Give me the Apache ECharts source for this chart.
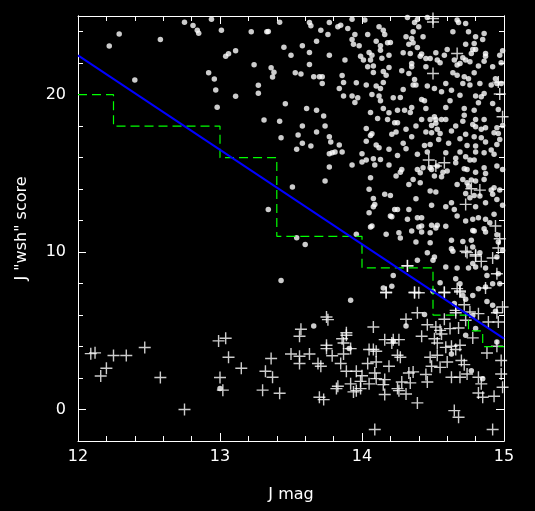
<!DOCTYPE html>
<html><head><meta charset="utf-8">
<script src="https://cdn.jsdelivr.net/npm/echarts@6/dist/echarts.min.js"></script>
<style>html,body{margin:0;padding:0;background:#000;}#c{width:535px;height:511px;}</style>
</head><body><div id="c"></div>
<script>
// Dots (upper population): [J mag, score]
const dotPoints = [
[12.22,23.1],[12.29,23.85],[12.58,23.5],[12.40,20.93],[12.75,24.6],[12.81,24.4],[12.84,24.1],[12.85,23.9],[12.94,24.8],[13.01,24.1],[13.22,24.0],[13.33,24.0],[13.04,22.45],[13.06,22.6],[13.11,22.8],[13.24,21.9],[12.92,21.4],[12.96,21.0],[12.97,20.3],[13.11,19.9],[13.27,20.6],[13.27,20.1],[12.98,19.2],[13.31,18.4],[13.34,12.7],
[13.42,24.61],[13.34,24.02],[13.45,23.02],[13.36,21.71],[13.37,21.12],[13.38,21.43],[13.46,19.43],[13.42,18.32],[13.43,17.27],
[13.63,24.59],[13.64,24.38],[13.71,24.10],[13.77,24.59],[13.83,24.31],[13.85,24.42],[13.90,24.21],[13.93,24.80],[14.02,24.74],[14.12,24.31],[14.15,24.10],[14.16,23.83],[13.76,23.83],[13.95,23.83],[14.04,23.83],[13.93,23.51],[13.68,23.40],[13.58,23.11],[13.94,23.21],[13.98,23.11],[14.10,23.40],[14.18,23.30],[14.20,23.32],[14.13,23.11],[14.13,22.83],[13.63,22.68],[13.77,22.51],[13.50,22.51],[13.99,22.45],[14.05,22.68],[14.07,22.51],[14.14,22.32],[14.19,22.51],[13.88,22.20],[14.01,22.20],[14.06,22.20],[13.63,21.92],[14.04,21.77],[14.08,21.82],[14.19,21.73],[13.53,21.39],[13.57,21.31],[14.08,21.41],[14.15,21.48],[14.17,21.24],[13.66,21.14],[13.70,21.14],[13.72,21.14],[13.72,20.71],[13.86,21.22],[13.87,20.78],[13.96,20.76],[14.03,20.61],[14.10,20.55],[14.13,20.40],[14.15,20.78],[13.84,20.40],[13.87,19.91],[13.93,19.91],[13.97,19.80],[13.95,19.51],[14.07,20.02],[14.12,19.91],[14.13,19.61],[14.22,19.80],[13.61,19.13],[13.68,19.02],[13.73,18.64],[14.06,18.87],[14.15,19.13],[14.19,18.85],[14.11,18.49],[14.18,18.43],
[14.32,24.91],[14.37,24.59],[14.39,24.78],[14.46,24.91],[14.40,24.31],[14.67,24.74],[14.68,24.59],[14.73,24.52],[14.36,24.00],[14.31,23.68],[14.35,23.57],[14.43,23.68],[14.64,24.00],[14.75,24.00],[14.80,23.68],[14.86,23.89],[14.85,23.51],[14.33,23.21],[14.36,23.30],[14.39,23.00],[14.73,23.21],[14.79,23.25],[14.78,22.87],[14.60,22.87],[14.80,22.87],[14.29,22.66],[14.34,22.62],[14.42,22.58],[14.41,22.45],[14.52,22.66],[14.58,22.51],[14.77,22.62],[14.87,22.62],[14.87,22.45],[14.97,22.51],[14.99,22.79],[14.45,22.30],[14.48,22.30],[14.53,22.20],[14.55,22.03],[14.65,22.20],[14.71,22.34],[14.73,22.20],[14.76,22.09],[14.86,22.13],[14.92,21.77],[14.98,22.03],[14.35,21.98],[14.35,21.77],[14.45,21.77],[14.67,21.88],[14.69,21.98],[14.82,21.82],[14.28,21.52],[14.33,21.35],[14.64,21.39],[14.67,21.24],[14.72,21.14],[14.79,21.39],[14.94,21.01],[14.98,20.71],[14.37,20.97],[14.38,20.61],[14.36,20.61],[14.46,20.55],[14.51,20.40],[14.59,20.71],[14.71,20.71],[14.75,21.01],[14.76,20.61],[14.83,20.71],[14.91,20.61],[14.95,20.71],[14.29,20.33],[14.56,20.19],[14.63,20.29],[14.69,19.97],[14.80,19.91],[14.84,19.87],[14.86,20.08],[14.27,19.83],[14.42,19.70],[14.44,19.61],[14.62,19.61],[14.82,19.49],[14.92,19.44],[14.96,19.06],[14.25,19.02],[14.30,19.02],[14.35,19.19],[14.34,18.87],[14.45,19.13],[14.59,19.19],[14.72,19.13],[14.79,19.02],[14.42,18.43],[14.48,18.43],[14.51,18.60],[14.52,18.43],[14.56,18.43],[14.59,18.43],[14.72,18.70],[14.80,18.43],[14.86,18.43],
[13.58,18.01],[13.74,18.01],[13.68,17.63],[13.55,17.44],[13.77,17.33],[13.78,16.99],[13.58,16.91],[13.64,16.74],[13.54,16.53],[13.84,16.80],[13.77,16.25],[13.79,16.31],[13.81,16.36],[13.86,16.36],[13.77,15.40],[13.93,15.53],[13.74,14.51],[13.51,14.13],[14.03,17.86],[14.06,17.41],[14.07,17.52],[14.03,17.05],[14.10,16.80],[14.12,16.63],[14.19,16.53],[14.21,17.48],[14.24,17.63],[14.23,18.22],[14.00,16.25],[14.00,15.72],[14.03,15.85],[14.08,15.93],[14.09,15.53],[14.13,15.89],[14.19,15.53],[14.06,14.73],[14.05,13.99],[14.16,13.67],[14.20,13.60],[14.08,13.41],[14.09,13.03],[14.08,12.88],[14.24,14.83],[14.05,12.50],[14.23,12.71],[14.21,12.25],[14.20,12.29],[14.07,11.66],
[14.25,18.22],[14.31,17.80],[14.38,18.01],[14.49,18.05],[14.49,17.58],[14.52,18.18],[14.53,17.80],[14.55,17.54],[14.63,17.69],[14.66,18.01],[14.71,18.32],[14.78,18.11],[14.80,17.96],[14.84,17.80],[14.87,17.90],[14.95,17.90],[14.96,17.54],[14.99,18.05],[14.45,17.63],
[14.35,17.33],[14.29,16.91],[14.31,16.57],[14.44,16.78],[14.48,16.84],[14.54,17.16],[14.61,16.91],[14.69,17.20],[14.73,17.48],[14.79,17.33],[14.84,17.27],[14.74,16.78],[14.80,16.74],[14.87,16.99],[14.93,17.58],[14.97,17.16],[14.95,16.84],[14.91,16.48],[14.59,16.31],[14.69,16.36],[14.46,16.36],[14.39,16.21],[14.80,16.36],[14.86,16.31],[14.93,16.21],
[14.25,16.14],[14.66,15.97],[14.73,16.06],[14.76,15.85],[14.79,15.85],[14.28,15.25],[14.27,15.08],[14.39,15.25],[14.41,15.04],[14.43,15.36],[14.48,15.36],[14.49,15.25],[14.53,15.47],[14.57,15.08],[14.60,15.15],[14.51,14.83],[14.56,14.79],[14.66,15.68],[14.72,15.30],[14.74,15.25],[14.80,15.08],[14.86,15.36],[14.87,15.00],[14.95,15.47],[14.99,15.25],[14.36,14.62],[14.41,14.41],[14.33,14.30],[14.71,14.62],[14.74,14.41],[14.77,14.58],[14.80,14.51],[14.86,14.62],[14.91,13.94],[14.93,14.09],[14.92,13.67],[14.97,13.94],[14.95,13.35],[14.87,13.14],[14.83,13.56],[14.79,13.60],[14.73,13.73],[14.75,14.20],[14.76,13.46],[14.67,14.30],[14.48,13.88],[14.52,13.82],[14.38,13.39],[14.49,12.97],[14.59,12.88],[14.65,12.71],[14.67,12.29],[14.80,12.88],[14.82,12.18],[14.87,12.08],[14.90,11.87],[14.93,12.40],[14.99,12.97],[14.73,11.97],[14.63,13.14],[14.25,12.71],[14.33,12.71],[14.32,12.08],[14.39,12.18],[14.42,12.18],[14.49,11.70],[14.42,11.66],[14.53,11.70],[14.78,12.08],
[13.54,10.92],[13.60,10.49],[13.96,11.13],[14.06,11.59],[14.17,11.13],[14.22,8.52],[14.21,7.83],[14.15,7.72],[13.92,6.94],[13.66,5.31],
[14.26,11.23],[14.27,10.90],[14.35,11.34],[14.40,11.59],[14.42,11.28],[14.48,11.23],[14.52,11.53],[14.59,11.64],[14.48,10.60],[14.38,10.64],[14.63,10.75],[14.71,10.68],[14.78,11.38],[14.79,11.34],[14.86,11.49],[14.87,11.28],[14.95,11.11],[14.96,10.64],[14.77,10.75],[14.63,10.22],[14.64,10.05],[14.78,10.32],[14.83,9.96],[14.99,10.11],[14.95,9.69],[14.46,9.96],[14.51,9.69],[14.50,9.48],[14.39,9.48],[14.59,9.05],[14.67,8.99],[14.75,8.99],[14.78,9.27],[14.80,9.05],[14.87,8.99],[14.88,8.52],[14.92,7.99],[14.96,8.63],[14.97,7.99],[14.55,8.06],[14.66,8.31],[14.69,7.99],[14.82,7.68],[14.87,7.78],[14.71,7.25],[14.73,7.00],[14.78,7.25],[14.88,6.87],[14.92,6.62],[14.94,6.24],[14.78,5.98],[14.65,6.73],[14.31,5.31],[14.80,5.14],[14.44,6.03],[14.50,7.51],
[13.43,8.2],[13.0,1.33],[13.91,3.87],[14.22,4.34],[14.73,4.72],[14.77,2.47],[14.85,1.96],[14.63,3.53],[14.95,4.29]
];
// Crosses (lower population): [J mag, score]
const crossPoints = [
[12.09,3.55],[12.12,3.6],[12.25,3.43],[12.34,3.43],[12.47,3.94],[12.16,2.13],[12.20,2.62],[12.58,2.03],[12.75,0.0],[12.99,4.36],[13.04,4.53],[13.06,3.32],[13.15,2.62],[13.00,2.03],[13.02,1.23],[13.32,2.43],[13.30,1.23],
[13.36,3.24],[13.37,2.05],[13.42,1.03],
[14.17,7.42],[13.75,5.88],[13.76,5.71],[13.57,5.10],[14.08,5.24],[13.89,4.88],
[14.73,10.05],[14.80,9.75],[14.84,9.41],[14.92,9.63],[14.96,10.26],[14.97,10.85],[14.94,11.66],[14.32,9.12],[14.37,7.42],[14.40,7.42],[14.58,7.42],[14.67,7.68],[14.69,7.47],[14.87,7.72],[14.39,6.15],[14.31,5.73],[14.58,5.73],[14.66,6.15],[14.72,6.66],[14.73,5.67],[14.82,6.09],[14.89,5.56],[14.95,6.15],[14.96,5.56],[14.99,6.51],[14.46,5.39],[14.52,5.24],[14.55,5.03],[14.62,5.14],[14.68,5.18],
[13.56,4.65],[13.86,4.50],[13.89,4.72],[13.87,4.23],[13.75,4.08],[13.75,3.87],[13.92,3.87],[14.05,3.81],[14.08,3.81],[14.10,3.70],[14.16,4.44],[14.21,4.23],[14.22,4.44],[13.50,3.53],[13.56,3.38],[13.63,3.53],[13.79,3.42],[13.87,3.53],[14.25,3.45],[13.56,2.92],[13.69,2.92],[13.71,2.75],[13.85,2.92],[14.04,2.92],[14.10,3.02],[14.19,2.75],[13.89,2.43],[13.96,2.43],[14.00,2.15],[14.05,1.63],[14.09,2.32],[14.10,1.96],[14.16,1.90],[13.99,1.79],[13.92,1.63],[13.82,1.33],[13.83,1.48],[13.94,1.12],[13.99,1.33],[13.96,1.20],[14.15,1.58],[14.16,0.95],[14.25,1.33],[13.70,0.78],[13.73,0.63],[14.09,-1.27],
[14.26,4.44],[14.42,4.65],[14.51,4.50],[14.53,4.23],[14.56,4.80],[14.59,3.95],[14.63,4.02],[14.69,4.08],[14.66,3.81],[14.78,4.55],[14.88,3.59],[14.95,4.02],[14.98,3.11],[14.27,3.32],[14.48,3.32],[14.53,3.45],[14.60,3.02],[14.70,3.11],[14.72,2.85],[14.49,2.75],[14.55,2.68],[14.74,2.26],[14.82,2.05],[14.84,1.63],[14.63,2.05],[14.69,2.05],[14.33,2.32],[14.36,2.39],[14.45,2.22],[14.46,1.75],[14.34,1.69],[14.28,1.75],[14.26,1.20],[14.31,0.99],[14.82,1.05],[14.85,0.78],[14.93,0.84],[14.99,1.41],[14.98,2.26],[14.39,0.42],[14.65,-0.07],[14.68,-0.49],[14.92,-1.27],
[14.50,24.84],[14.50,24.62],[14.67,22.62],[14.50,21.35],[14.97,20.04],[14.96,20.80],[14.99,18.60],[14.47,15.85],[14.52,15.47],[14.58,15.68],[14.77,14.03],[14.83,13.94],[14.73,13.03],
[14.32,9.14],[14.17,7.45],[14.37,7.45],[14.58,7.45],[14.69,7.53],[14.66,6.30],[14.76,6.2],[14.74,9.97],[14.80,9.84],[14.95,8.63]
];
// Fitted line and step threshold
const fitX = [12, 15];
const fitY = [22.5, 4.5];
const stepX = [12, 12.25, 12.25, 13, 13, 13.4, 13.4, 14, 14, 14.5, 14.5, 14.75, 14.75, 14.85, 14.85, 15];
const stepY = [20, 20, 18, 18, 16, 16, 11, 11, 9, 9, 6, 6, 5, 5, 4, 4];
const yMajorTicks = [0, 10, 20];

const FONT = 'DejaVu Sans';
const W = '#ffffff';
const chart = echarts.init(document.getElementById('c'), null, {renderer: 'canvas'});

function xAx(pos, labels) {
  const a = {
    type: 'value', position: pos, min: 12, max: 15, interval: 1,
    axisLine: {show: true, onZero: false, lineStyle: {color: W, width: 1}},
    axisTick: {show: true, inside: true, length: 8, lineStyle: {color: W, width: 1}},
    minorTick: {show: true, splitNumber: 5, length: 5, lineStyle: {color: W, width: 1}},
    axisLabel: {show: labels, color: W, fontFamily: FONT, fontSize: 16, margin: 8},
    splitLine: {show: false}, minorSplitLine: {show: false}
  };
  if (labels) {
    a.name = 'J mag'; a.nameLocation = 'middle'; a.nameGap = 46;
    a.nameTextStyle = {color: W, fontFamily: FONT, fontSize: 16};
  }
  return a;
}
function yAx(pos, major, labels) {
  const a = {
    type: 'value', position: pos, min: -2, max: 25, interval: 2,
    axisLine: {show: true, onZero: false, lineStyle: {color: W, width: 1}},
    axisTick: major ? {show: true, inside: true, length: 8, customValues: yMajorTicks, lineStyle: {color: W, width: 1}}
                    : {show: true, inside: true, length: 5, lineStyle: {color: W, width: 1}},
    axisLabel: labels ? {show: true, color: W, fontFamily: FONT, fontSize: 16, margin: 12, customValues: yMajorTicks}
                      : {show: false},
    splitLine: {show: false}
  };
  if (labels) {
    a.name = 'J "wsh" score'; a.nameLocation = 'middle'; a.nameGap = 48; a.nameRotate = 90;
    a.nameTextStyle = {color: W, fontFamily: FONT, fontSize: 16};
  }
  return a;
}

chart.setOption({
  backgroundColor: '#000',
  animation: false,
  grid: {left: 78, right: 31, top: 16, bottom: 70, containLabel: false, outerBoundsMode: 'none'},
  xAxis: [xAx('bottom', true), xAx('top', false)],
  yAxis: [yAx('left', true, true), yAx('left', false, false), yAx('right', true, false), yAx('right', false, false)],
  series: [
    {type: 'scatter', xAxisIndex: 0, yAxisIndex: 0, data: dotPoints, symbol: 'circle', symbolSize: 5.5,
     itemStyle: {color: W}, z: 2},
    {type: 'scatter', xAxisIndex: 0, yAxisIndex: 0, data: crossPoints,
     symbol: 'path://M5.3,0H6.7V5.3H12V6.7H6.7V12H5.3V6.7H0V5.3H5.3Z', symbolSize: 12,
     itemStyle: {color: W}, z: 2},
    {type: 'line', xAxisIndex: 0, yAxisIndex: 0, data: stepX.map((x, i) => [x, stepY[i]]),
     symbol: 'none', lineStyle: {color: '#00ff00', width: 1.2, type: [9, 5]}, z: 3},
    {type: 'line', xAxisIndex: 0, yAxisIndex: 0, data: fitX.map((x, i) => [x, fitY[i]]),
     symbol: 'none', lineStyle: {color: '#0000ff', width: 2}, z: 4}
  ]
});
</script>
</body></html>
